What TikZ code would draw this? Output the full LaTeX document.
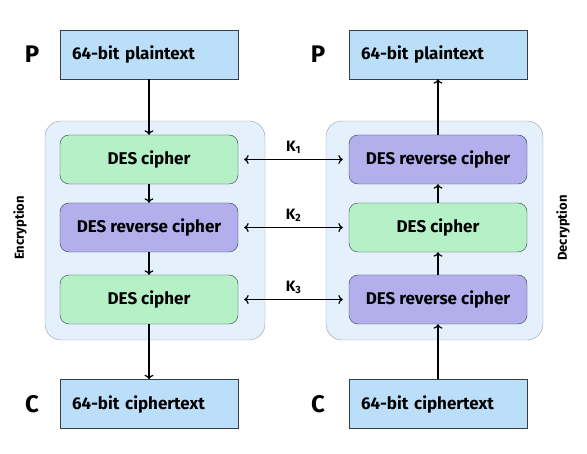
\documentclass[tikz,border=0pt]{standalone}
\usepackage{fontspec}
\setmainfont{Fira Sans}
\usetikzlibrary{arrows.meta}
\definecolor{plainblue}{HTML}{BCDFF9}
\definecolor{ciphgreen}{HTML}{B6F0C6}
\definecolor{revpurple}{HTML}{B3AEEC}
\definecolor{stagefill}{HTML}{E4F1FC}
\definecolor{stageline}{HTML}{8F9CA8}
\definecolor{edgedark}{HTML}{333F4A}
\tikzset{
  textbox/.style={
    draw=edgedark,
    fill=plainblue,
    minimum width=178pt,
    minimum height=49pt,
    inner sep=0pt,
    text width=154pt,
    align=left,
    font=\fontsize{17}{19}\selectfont\bfseries
  },
  cipherbox/.style={
    textbox,
    fill=ciphgreen,
    rounded corners=9pt,
    text width=,
    align=center
  },
  reversebox/.style={
    cipherbox,
    fill=revpurple
  },
  stage/.style={
    draw=stageline,
    fill=stagefill,
    rounded corners=16pt
  },
  flow/.style={
    -{To[length=4.5pt,width=9pt]},
    line width=1.3pt
  },
  keyflow/.style={
    {To[length=4.5pt,width=9pt]}-{To[length=4.5pt,width=9pt]},
    line width=1.3pt
  },
  letter/.style={
    font=\fontsize{24}{26}\selectfont\bfseries
  },
  keylabel/.style={
    font=\fontsize{15}{17}\selectfont\bfseries
  },
  sidelabel/.style={
    rotate=90,
    font=\fontsize{13}{15}\selectfont\bfseries
  }
}
\begin{document}
\begin{tikzpicture}[x=1pt,y=-1pt]
  \useasboundingbox (0,0) rectangle (587,454);
  % containers
  \draw[stage] (45,121) rectangle (265,340);
  \draw[stage] (326,121) rectangle (543,340);
  % encryption side
  \node[textbox] (pl) at (149,54.5) {64-bit plaintext};
  \node[cipherbox] (e1) at (149,159.5) {DES cipher};
  \node[reversebox] (e2) at (149,227.5) {DES reverse cipher};
  \node[cipherbox] (e3) at (149,299.5) {DES cipher};
  \node[textbox] (cl) at (149,404) {64-bit ciphertext};
  \node[letter] (pleft) at (32,54) {P};
  \node[letter] (cleft) at (32,404) {C};
  \node[sidelabel] (enc) at (20,228) {Encryption};
  \draw[flow] (pl) -- (e1);
  \draw[flow] (e1) -- (e2);
  \draw[flow] (e2) -- (e3);
  \draw[flow] (e3) -- (cl);
  % decryption side
  \node[textbox] (pr) at (438,54.5) {64-bit plaintext};
  \node[reversebox] (d1) at (438,159.5) {DES reverse cipher};
  \node[cipherbox] (d2) at (438,227.5) {DES cipher};
  \node[reversebox] (d3) at (438,299.5) {DES reverse cipher};
  \node[textbox] (cr) at (438,404) {64-bit ciphertext};
  \node[letter] (pright) at (318,54) {P};
  \node[letter] (cright) at (318,404) {C};
  \node[sidelabel] (dec) at (563,228) {Decryption};
  \draw[flow] (cr) -- (d3);
  \draw[flow] (d3) -- (d2);
  \draw[flow] (d2) -- (d1);
  \draw[flow] (d1) -- (pr);
  % keys
  \foreach \k/\a/\b in {1/e1/d1,2/e2/d2,3/e3/d3}{
    \draw[keyflow,shorten <=6pt,shorten >=6pt] (\a) -- (\b)
      node[midway,above=2pt,keylabel] {K\textsubscript{\k}};
  }
\end{tikzpicture}
\end{document}
